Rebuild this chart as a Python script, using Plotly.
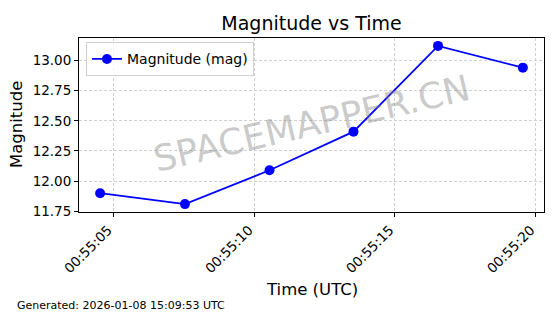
import plotly.graph_objects as go

# ---- data ----
times = [
    "2026-01-08 00:55:04.54",
    "2026-01-08 00:55:07.55",
    "2026-01-08 00:55:10.55",
    "2026-01-08 00:55:13.53",
    "2026-01-08 00:55:16.53",
    "2026-01-08 00:55:19.54",
]
magnitudes = [11.90, 11.81, 12.09, 12.41, 13.12, 12.94]
x_tick_vals = ["2026-01-08 00:55:05", "2026-01-08 00:55:10",
               "2026-01-08 00:55:15", "2026-01-08 00:55:20"]
x_tick_text = ["00:55:05", "00:55:10", "00:55:15", "00:55:20"]
y_tick_vals = [11.75, 12.00, 12.25, 12.50, 12.75, 13.00]
x_range = ["2026-01-08 00:55:03.79", "2026-01-08 00:55:20.29"]
y_range = [11.7445, 13.1855]

FONT = "DejaVu Sans"

fig = go.Figure()
fig.add_trace(go.Scatter(
    x=times, y=magnitudes, mode="lines+markers", name="Magnitude (mag)",
    line=dict(color="#0000ff", width=1.8),
    marker=dict(color="#0000ff", size=10),
))

axis_common = dict(
    showline=True, linecolor="black", linewidth=1, mirror=True,
    ticks="outside", ticklen=4, tickcolor="black", tickwidth=1,
    showgrid=True, gridcolor="#d0d0d0", griddash="3px,2px", gridwidth=1,
    zeroline=False, tickfont=dict(family=FONT, size=13.5, color="black"),
)

fig.update_layout(
    width=560, height=314,
    margin=dict(l=79, r=16, t=38, b=102),
    paper_bgcolor="white", plot_bgcolor="white",
    font=dict(family=FONT, color="black"),
    title=dict(text="Magnitude vs Time", x=0.5, xanchor="center",
               xref="paper", y=1 - 23 / 314, yanchor="middle",
               font=dict(family=FONT, size=19, color="black")),
    xaxis=dict(range=x_range, tickvals=x_tick_vals, ticktext=x_tick_text,
               tickangle=-45, automargin=False, ticklabelshift=-5,
               **axis_common),
    yaxis=dict(range=y_range, tickvals=y_tick_vals, tickformat=".2f",
               automargin=False, **axis_common),
    showlegend=True,
    legend=dict(x=0.015, y=0.975, xanchor="left", yanchor="top",
                bgcolor="rgba(255,255,255,0.8)", bordercolor="#d0d0d0",
                borderwidth=1, font=dict(family=FONT, size=14, color="black")),
)

# axis titles
fig.add_annotation(text="Time (UTC)", xref="paper", yref="paper",
                   x=0.5, y=0, yshift=-77, xanchor="center", yanchor="middle",
                   showarrow=False,
                   font=dict(family=FONT, size=16.5, color="black"))
fig.add_annotation(text="Magnitude", xref="paper", yref="paper",
                   x=0, y=0.5, xshift=-63, xanchor="center", yanchor="middle",
                   textangle=-90, showarrow=False,
                   font=dict(family=FONT, size=16.5, color="black"))
# watermark
fig.add_annotation(text="SPACEMAPPER.CN", xref="paper", yref="paper",
                   x=0.5, y=0.5, yshift=2, xanchor="center", yanchor="middle",
                   textangle=-13, showarrow=False,
                   font=dict(family=FONT, size=36, color="rgba(128,128,128,0.42)"))
# footer
fig.add_annotation(text="Generated: 2026-01-08 15:09:53 UTC", xref="paper",
                   yref="paper", x=0, y=0, xshift=-64, yshift=-93,
                   xanchor="left", yanchor="middle", showarrow=False,
                   font=dict(family=FONT, size=11, color="black"))

fig.write_html("out.html")
